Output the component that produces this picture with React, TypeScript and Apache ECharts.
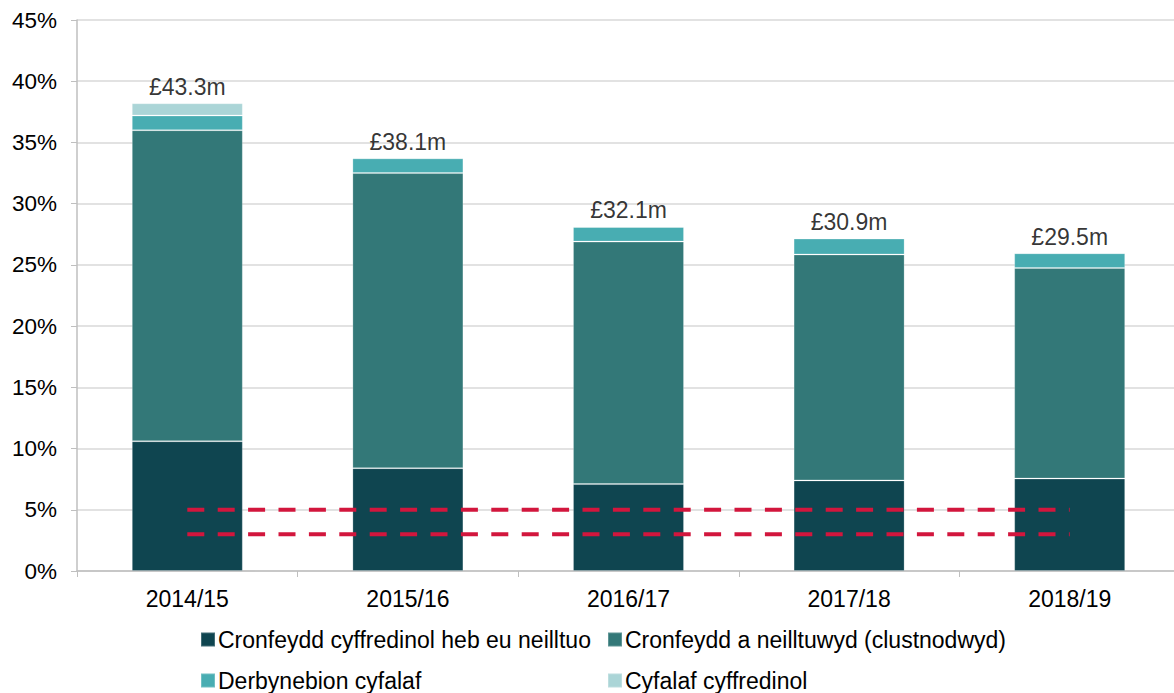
import React, { useEffect, useRef } from "react";
import * as echarts from "echarts";

const categories = ["2014/15", "2015/16", "2016/17", "2017/18", "2018/19"];
const unallocatedGeneral = [10.6, 8.4, 7.1, 7.4, 7.55];
const earmarked = [25.4, 24.1, 19.8, 18.45, 17.2];
const capitalReceipts = [1.2, 1.2, 1.2, 1.3, 1.2];
const generalCapital = [1.0, 0, 0, 0, 0];
const totalLabels = ["£43.3m", "£38.1m", "£32.1m", "£30.9m", "£29.5m"];
const upperRef = [5, 5, 5, 5, 5];
const lowerRef = [3, 3, 3, 3, 3];
const yTicks = { min: 0, max: 45, interval: 5 };

const seriesNames = [
  "Cronfeydd cyffredinol heb eu neilltuo",
  "Cronfeydd a neilltuwyd (clustnodwyd)",
  "Derbynebion cyfalaf",
  "Cyfalaf cyffredinol",
];
const colors = ["#0F4550", "#337878", "#48ADB2", "#ABD5D7"];

export default function App() {
  const ref = useRef<HTMLDivElement>(null);
  useEffect(() => {
    if (!ref.current) return;
    const chart = echarts.init(ref.current, undefined, { renderer: "svg" });
    const font = "'Liberation Sans', Arial, sans-serif";
    const totals = categories.map(
      (_, i) => unallocatedGeneral[i] + earmarked[i] + capitalReceipts[i] + generalCapital[i]
    );
    const stacks = [unallocatedGeneral, earmarked, capitalReceipts, generalCapital];
    const barSeries = stacks.map((d, k) => ({
      name: seriesNames[k],
      type: "bar",
      stack: "total",
      barWidth: 111,
      data: d,
      itemStyle: { color: colors[k], borderColor: "rgba(255,255,255,0.22)", borderWidth: 1 },
      emphasis: { disabled: true },
    }));
    const dashLine = (d: number[]) => ({
      type: "line",
      data: d,
      symbol: "none",
      silent: true,
      z: 5,
      lineStyle: { color: "#D2163D", width: 4, type: [17, 13.4], cap: "butt" },
    });
    const legendCommon = {
      orient: "vertical",
      icon: "rect",
      itemWidth: 14,
      itemHeight: 14,
      itemGap: 18,
      top: 628,
      padding: 0,
      textStyle: { fontFamily: font, fontSize: 23, color: "#000", padding: [0, 0, 0, -2] },
      selectedMode: false,
    };
    chart.setOption({
      animation: false,
      backgroundColor: "#fff",
      textStyle: { fontFamily: font },
      grid: { left: 77, top: 20, width: 1103, height: 551, containLabel: false },
      legend: [
        { ...legendCommon, left: 200, data: [seriesNames[0], seriesNames[2]] },
        { ...legendCommon, left: 607, data: [seriesNames[1], seriesNames[3]] },
      ],
      xAxis: {
        type: "category",
        data: categories,
        axisLine: { lineStyle: { color: "#BFBFBF", width: 1.5 } },
        axisTick: { show: true, length: 6, lineStyle: { color: "#BFBFBF" } },
        axisLabel: { color: "#000", fontSize: 23, fontFamily: font, margin: 16 },
      },
      yAxis: {
        type: "value",
        min: yTicks.min,
        max: yTicks.max,
        interval: yTicks.interval,
        axisLine: { show: true, lineStyle: { color: "#BFBFBF", width: 1.5 } },
        axisTick: { show: true, length: 6, lineStyle: { color: "#BFBFBF" } },
        axisLabel: { color: "#000", fontSize: 22.5, fontFamily: font, margin: 20, formatter: "{value}%" },
        splitLine: { lineStyle: { color: "#D9D9D9", width: 1.5 } },
      },
      series: [
        ...barSeries,
        dashLine(upperRef),
        dashLine(lowerRef),
        {
          type: "scatter",
          data: totals,
          symbolSize: 0,
          silent: true,
          label: {
            show: true,
            position: "top",
            distance: 5,
            color: "#000",
            fontSize: 23,
            fontFamily: font,
            formatter: (p: any) => totalLabels[p.dataIndex],
          },
        },
      ],
    });
    return () => chart.dispose();
  }, []);
  return (
    <div
      style={{
        position: "fixed",
        left: 0,
        top: 0,
        width: 1174,
        height: 693,
        overflow: "hidden",
        background: "#fff",
      }}
    >
      <div ref={ref} style={{ width: 1182, height: 693 }} />
    </div>
  );
}
